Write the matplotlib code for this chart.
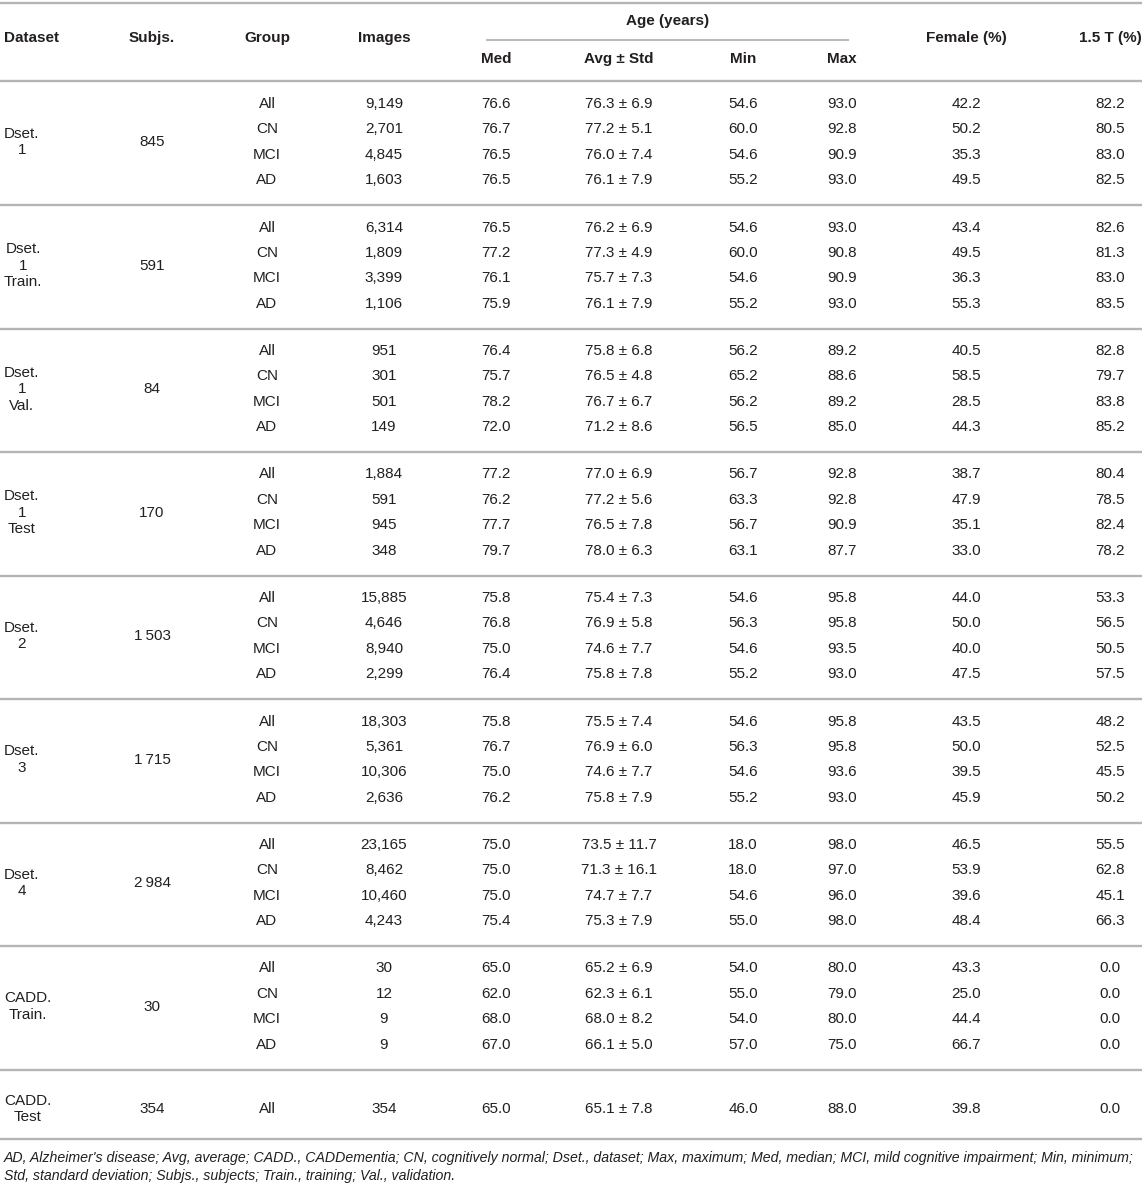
import matplotlib
matplotlib.use("Agg")
import matplotlib.pyplot as plt

# ---------------- data ----------------
datasets = ["Dset.\n1", "Dset.\n1\nTrain.", "Dset.\n1\nVal.", "Dset.\n1\nTest",
            "Dset.\n2", "Dset.\n3", "Dset.\n4", "CADD.\nTrain.", "CADD.\nTest"]
subjects = ["845", "591", "84", "170", "1\u2009503", "1\u2009715", "2\u2009984", "30", "354"]
groups = [["All", "CN", "MCI", "AD"]] * 8 + [["All"]]
images = [["9,149", "2,701", "4,845", "1,603"],
          ["6,314", "1,809", "3,399", "1,106"],
          ["951", "301", "501", "149"],
          ["1,884", "591", "945", "348"],
          ["15,885", "4,646", "8,940", "2,299"],
          ["18,303", "5,361", "10,306", "2,636"],
          ["23,165", "8,462", "10,460", "4,243"],
          ["30", "12", "9", "9"],
          ["354"]]
age_med = [[76.6, 76.7, 76.5, 76.5], [76.5, 77.2, 76.1, 75.9], [76.4, 75.7, 78.2, 72.0],
           [77.2, 76.2, 77.7, 79.7], [75.8, 76.8, 75.0, 76.4], [75.8, 76.7, 75.0, 76.2],
           [75.0, 75.0, 75.0, 75.4], [65.0, 62.0, 68.0, 67.0], [65.0]]
age_avg = [[76.3, 77.2, 76.0, 76.1], [76.2, 77.3, 75.7, 76.1], [75.8, 76.5, 76.7, 71.2],
           [77.0, 77.2, 76.5, 78.0], [75.4, 76.9, 74.6, 75.8], [75.5, 76.9, 74.6, 75.8],
           [73.5, 71.3, 74.7, 75.3], [65.2, 62.3, 68.0, 66.1], [65.1]]
age_std = [[6.9, 5.1, 7.4, 7.9], [6.9, 4.9, 7.3, 7.9], [6.8, 4.8, 6.7, 8.6],
           [6.9, 5.6, 7.8, 6.3], [7.3, 5.8, 7.7, 7.8], [7.4, 6.0, 7.7, 7.9],
           [11.7, 16.1, 7.7, 7.9], [6.9, 6.1, 8.2, 5.0], [7.8]]
age_min = [[54.6, 60.0, 54.6, 55.2], [54.6, 60.0, 54.6, 55.2], [56.2, 65.2, 56.2, 56.5],
           [56.7, 63.3, 56.7, 63.1], [54.6, 56.3, 54.6, 55.2], [54.6, 56.3, 54.6, 55.2],
           [18.0, 18.0, 54.6, 55.0], [54.0, 55.0, 54.0, 57.0], [46.0]]
age_max = [[93.0, 92.8, 90.9, 93.0], [93.0, 90.8, 90.9, 93.0], [89.2, 88.6, 89.2, 85.0],
           [92.8, 92.8, 90.9, 87.7], [95.8, 95.8, 93.5, 93.0], [95.8, 95.8, 93.6, 93.0],
           [98.0, 97.0, 96.0, 98.0], [80.0, 79.0, 80.0, 75.0], [88.0]]
female = [[42.2, 50.2, 35.3, 49.5], [43.4, 49.5, 36.3, 55.3], [40.5, 58.5, 28.5, 44.3],
          [38.7, 47.9, 35.1, 33.0], [44.0, 50.0, 40.0, 47.5], [43.5, 50.0, 39.5, 45.9],
          [46.5, 53.9, 39.6, 48.4], [43.3, 25.0, 44.4, 66.7], [39.8]]
t15 = [[82.2, 80.5, 83.0, 82.5], [82.6, 81.3, 83.0, 83.5], [82.8, 79.7, 83.8, 85.2],
       [80.4, 78.5, 82.4, 78.2], [53.3, 56.5, 50.5, 57.5], [48.2, 52.5, 45.5, 50.2],
       [55.5, 62.8, 45.1, 66.3], [0.0, 0.0, 0.0, 0.0], [0.0]]

headers_top = ["Dataset", "Subjs.", "Group", "Images", "Female (%)", "1.5 T (%)"]
age_header = "Age (years)"
age_subheaders = ["Med", "Avg \u00b1 Std", "Min", "Max"]
footnote = ("AD, Alzheimer's disease; Avg, average; CADD., CADDementia; CN, cognitively normal; "
            "Dset., dataset; Max, maximum; Med, median; MCI, mild cognitive impairment; Min, minimum;\n"
            "Std, standard deviation; Subjs., subjects; Train., training; Val., validation.")

# ---------------- layout ----------------
W, H = 1144, 1187
fig = plt.figure(figsize=(W / 100, H / 100), dpi=100)
ax = fig.add_axes([0, 0, 1, 1])
ax.set_xlim(0, W)
ax.set_ylim(H, 0)
ax.axis("off")

plt.rcParams["font.family"] = ["Liberation Sans", "DejaVu Sans"]
FS = 11
TXT = "#231f20"
LINE = "#b4b4b4"

x_subj, x_group, x_img = 152, 267, 384
x_med, x_avg, x_min, x_max = 496, 619, 743, 842
x_fem, x_t15 = 966, 1110
X_END = 1142

def hline(y, x0=0, x1=X_END, lw=1.7):
    ax.plot([x0, x1], [y, y], color=LINE, lw=lw, solid_capstyle="butt")

hline(3)
hline(80.5)
hline(39.5, 486, 849, lw=1.3)

hb = dict(fontsize=FS, fontweight="bold", color=TXT, va="center")
ax.text(4, 38, headers_top[0], ha="left", **hb)
ax.text(x_subj, 38, headers_top[1], ha="center", **hb)
ax.text(x_group, 38, headers_top[2], ha="center", **hb)
ax.text(x_img, 38, headers_top[3], ha="center", **hb)
ax.text(x_fem, 38, headers_top[4], ha="center", **hb)
ax.text(x_t15, 38, headers_top[5], ha="center", **hb)
ax.text(668, 21, age_header, ha="center", **hb)
for xs, s in zip([x_med, x_avg, x_min, x_max], age_subheaders):
    ax.text(xs, 59, s, ha="center", **hb)

tb = dict(fontsize=FS, color=TXT, va="center")
block_pitch = 123.5
row_pitch = 25.4
y_first = 104
for b in range(len(datasets)):
    n = len(groups[b])
    y0 = y_first + b * block_pitch
    if b == len(datasets) - 1:
        y0 = 1109
    ymid = y0 + (n - 1) * row_pitch / 2
    ax.text(4, ymid, datasets[b], ha="left", multialignment="center",
            linespacing=1.22, **tb)
    ax.text(x_subj, ymid, subjects[b], ha="center", **tb)
    for r in range(n):
        y = y0 + r * row_pitch
        ax.text(x_group, y, groups[b][r], ha="center", **tb)
        ax.text(x_img, y, images[b][r], ha="center", **tb)
        ax.text(x_med, y, f"{age_med[b][r]:.1f}", ha="center", **tb)
        ax.text(x_avg, y, f"{age_avg[b][r]:.1f} \u00b1 {age_std[b][r]:.1f}", ha="center", **tb)
        ax.text(x_min, y, f"{age_min[b][r]:.1f}", ha="center", **tb)
        ax.text(x_max, y, f"{age_max[b][r]:.1f}", ha="center", **tb)
        ax.text(x_fem, y, f"{female[b][r]:.1f}", ha="center", **tb)
        ax.text(x_t15, y, f"{t15[b][r]:.1f}", ha="center", **tb)
    if b < len(datasets) - 1:
        hline(205 + b * 123.5)

hline(1138.5)
ax.text(4, 1167, footnote, ha="left", va="center", fontsize=10.2, style="italic",
        color=TXT, linespacing=1.45)

fig.savefig("out.png", dpi=100)
